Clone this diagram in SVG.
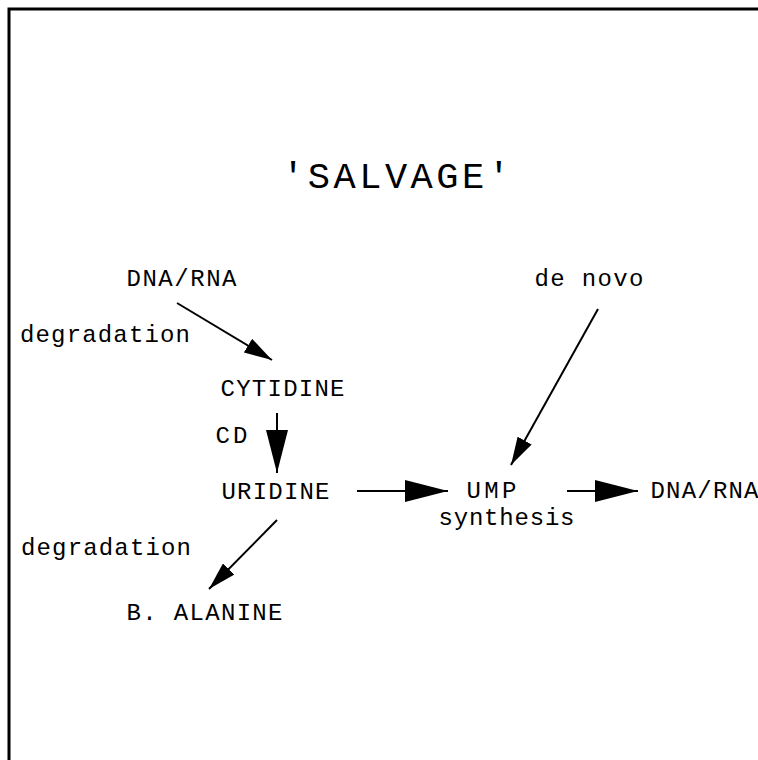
<svg xmlns="http://www.w3.org/2000/svg" width="758" height="760" viewBox="0 0 758 760">
<style>
text{font-family:"Liberation Mono","DejaVu Sans Mono",monospace;font-size:24px;fill:#000}
.title{font-size:37px}
.c{stroke:#000;stroke-width:2;fill:none}
</style>
<defs>
<marker id="big" markerUnits="userSpaceOnUse" markerWidth="44" markerHeight="22" refX="43" refY="11" orient="auto"><path d="M0,0 L43,11 L0,22 z" fill="#000"/></marker>
<marker id="small" markerUnits="userSpaceOnUse" markerWidth="29" markerHeight="16" refX="28" refY="8" orient="auto"><path d="M0,0 L28,8 L0,16 z" fill="#000"/></marker>
</defs>
<rect width="758" height="760" fill="#fff"/>
<path d="M9,760 V9 H758" stroke="#000" stroke-width="3" fill="none"/>
<text class="title" x="282" y="188" textLength="228" lengthAdjust="spacing">'SALVAGE'</text>
<g id="dnarna1"><text x="126.5" y="286" textLength="110" lengthAdjust="spacing">DNA/RNA</text></g>
<g id="degradation1"><text x="20" y="342" textLength="170" lengthAdjust="spacing">degradation</text></g>
<g id="cytidine"><text x="220.5" y="396" textLength="124" lengthAdjust="spacing">CYTIDINE</text></g>
<g id="cd"><text x="215.5" y="443" textLength="32" lengthAdjust="spacing">CD</text></g>
<g id="uridine"><text x="221.5" y="499" textLength="108" lengthAdjust="spacing">URIDINE</text></g>
<g id="ump"><text x="466.5" y="498" textLength="50" lengthAdjust="spacing">UMP</text></g>
<g id="synthesis"><text x="438.5" y="525" textLength="136" lengthAdjust="spacing">synthesis</text></g>
<g id="dnarna2"><text x="650.5" y="498" textLength="108" lengthAdjust="spacing">DNA/RNA</text></g>
<g id="denovo"><text x="534.5" y="286" textLength="109" lengthAdjust="spacing">de novo</text></g>
<g id="degradation2"><text x="21" y="555" textLength="170" lengthAdjust="spacing">degradation</text></g>
<g id="balanine"><text x="126.5" y="620" textLength="156" lengthAdjust="spacing">B. ALANINE</text></g>
<g id="connectors">
<line class="c" x1="177" y1="303" x2="272" y2="360" marker-end="url(#small)"/>
<line class="c" x1="277" y1="413" x2="277" y2="473" marker-end="url(#big)"/>
<line class="c" x1="357" y1="491" x2="448" y2="491" marker-end="url(#big)"/>
<line class="c" x1="567" y1="491" x2="638" y2="491" marker-end="url(#big)"/>
<line class="c" x1="598" y1="309" x2="511" y2="465" marker-end="url(#small)"/>
<line class="c" x1="277" y1="520" x2="209" y2="589" marker-end="url(#small)"/>
</g>
</svg>
